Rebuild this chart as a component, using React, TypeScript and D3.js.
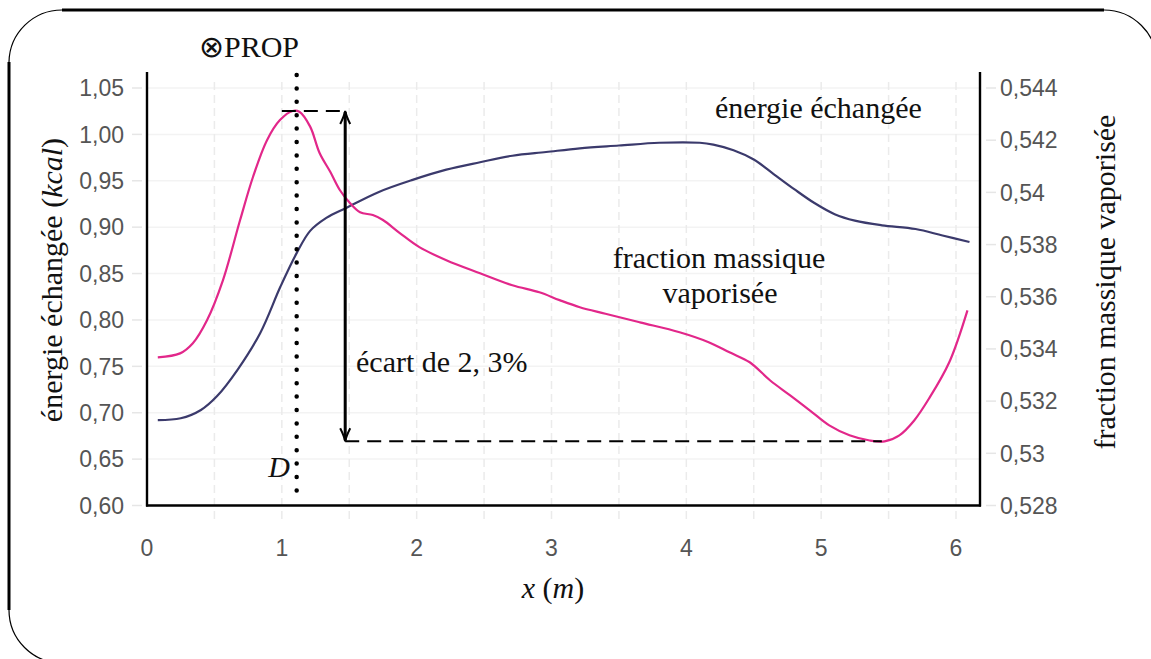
import { useEffect, useRef } from 'react'
import * as d3 from 'd3'

// énergie échangée (left axis, kcal)
const energyX = [0.08, 0.25, 0.4, 0.52, 0.67, 0.84, 0.99, 1.11, 1.21, 1.33, 1.48, 1.72, 1.97, 2.22, 2.47, 2.71, 2.96, 3.21, 3.5, 3.8, 4.1, 4.2, 4.35, 4.5, 4.65, 4.8, 4.95, 5.1, 5.25, 5.45, 5.7, 5.9, 6.1]
const energyVal = [0.692, 0.694, 0.703, 0.718, 0.746, 0.786, 0.836, 0.872, 0.896, 0.91, 0.921, 0.938, 0.951, 0.962, 0.97, 0.977, 0.981, 0.985, 0.988, 0.991, 0.991, 0.989, 0.983, 0.973, 0.957, 0.941, 0.926, 0.914, 0.907, 0.902, 0.898, 0.891, 0.884]

// fraction massique vaporisée (right axis)
const fractionX = [0.08, 0.245, 0.34, 0.445, 0.563, 0.69, 0.786, 0.89, 0.986, 1.08, 1.13, 1.21, 1.28, 1.36, 1.43, 1.505, 1.58, 1.675, 1.75, 1.875, 2.02, 2.22, 2.47, 2.71, 2.91, 3.06, 3.21, 3.4, 3.655, 3.95, 4.17, 4.32, 4.47, 4.62, 4.77, 4.915, 5.06, 5.21, 5.36, 5.47, 5.58, 5.69, 5.8, 5.95, 6.085]
const fractionVal = [0.53368, 0.53383, 0.53422, 0.5351, 0.53663, 0.53893, 0.54059, 0.542, 0.54277, 0.54312, 0.54309, 0.54252, 0.54151, 0.54078, 0.54009, 0.53959, 0.53924, 0.53913, 0.53894, 0.53844, 0.5379, 0.5374, 0.5369, 0.53644, 0.53617, 0.53587, 0.5356, 0.53535, 0.53502, 0.53464, 0.53425, 0.53387, 0.53349, 0.5328, 0.53222, 0.53165, 0.53107, 0.53069, 0.53049, 0.53046, 0.53069, 0.53126, 0.5321, 0.53349, 0.53548]

const xTicks = [0, 1, 2, 3, 4, 5, 6]
const xGrid = [0.5, 1, 1.5, 2, 2.5, 3, 3.5, 4, 4.5, 5, 5.5, 6]
const leftTicks = [0.6, 0.65, 0.7, 0.75, 0.8, 0.85, 0.9, 0.95, 1.0, 1.05]
const rightTicks = [0.528, 0.53, 0.532, 0.534, 0.536, 0.538, 0.54, 0.542, 0.544]

// annotation positions (data units)
const propX = 1.11
const arrowX = 1.47
const peakDashFrom = 1.0
const minDashTo = 5.45

const NAVY = '#3b3a6c'
const PINK = '#e2278a'
const SERIF = '"Liberation Serif", "Times New Roman", serif'
const SANS = '"Liberation Sans", Arial, Helvetica, sans-serif'

export default function App() {
  const svgRef = useRef<SVGSVGElement>(null)

  useEffect(() => {
    if (!svgRef.current) return
    const svg = d3.select(svgRef.current)
    svg.selectAll('*').remove()

    const x = d3.scaleLinear().domain([0, 6]).range([147, 956])
    const yL = d3.scaleLinear().domain([0.6, 1.05]).range([505.5, 88])
    const yR = d3.scaleLinear().domain([0.528, 0.544]).range([505.5, 88])
    const left = 147, right = 980, top = 72, bottom = 505.5

    // frame
    const frame = svg.append('g').attr('fill', 'none').attr('stroke', '#000')
    frame.append('line').attr('x1', 62).attr('x2', 1104).attr('y1', 10).attr('y2', 10).attr('stroke-width', 3)
    frame.append('line').attr('x1', 9).attr('x2', 9).attr('y1', 62).attr('y2', 610).attr('stroke-width', 3)
    frame.append('path').attr('d', 'M9,62 A53,53 0 0 1 62,10').attr('stroke-width', 1.2)
    frame.append('path').attr('d', 'M9,610 A53,53 0 0 0 62,663').attr('stroke-width', 1.2)
    frame.append('path').attr('d', 'M1104,10 A53,53 0 0 1 1157,63').attr('stroke-width', 1.2)

    // grid
    const grid = svg.append('g')
    grid.selectAll('line.h').data(leftTicks).join('line')
      .attr('x1', left).attr('x2', right)
      .attr('y1', d => yL(d)).attr('y2', d => yL(d))
      .attr('stroke', '#f3f3f3').attr('stroke-width', 1.5)
    grid.selectAll('line.v').data(xGrid).join('line')
      .attr('x1', d => x(d)).attr('x2', d => x(d))
      .attr('y1', top + 10).attr('y2', bottom + 14)
      .attr('stroke', '#ebebeb').attr('stroke-width', 1.5).attr('stroke-dasharray', '8 5')

    // faint ticks
    svg.append('g').selectAll('line').data(leftTicks).join('line')
      .attr('x1', 132).attr('x2', 142).attr('y1', d => yL(d)).attr('y2', d => yL(d))
      .attr('stroke', '#e6e6e6').attr('stroke-width', 1.5)
    svg.append('g').selectAll('line').data(rightTicks).join('line')
      .attr('x1', 986).attr('x2', 996).attr('y1', d => yR(d)).attr('y2', d => yR(d))
      .attr('stroke', '#e6e6e6').attr('stroke-width', 1.5)

    // tick labels
    const fmtL = (v: number) => d3.format('.2f')(v).replace('.', ',')
    const fmtR = (v: number) => d3.format('.3~f')(v).replace('.', ',')
    const TICK_FS = 23
    svg.append('g').selectAll('text').data(leftTicks).join('text')
      .attr('x', 124).attr('y', d => yL(d)).attr('dy', '0.36em')
      .attr('text-anchor', 'end').attr('font-family', SANS).attr('font-size', TICK_FS).attr('fill', '#555')
      .text(fmtL)
    svg.append('g').selectAll('text').data(rightTicks).join('text')
      .attr('x', 1000).attr('y', d => yR(d)).attr('dy', '0.36em')
      .attr('text-anchor', 'start').attr('font-family', SANS).attr('font-size', TICK_FS).attr('fill', '#555')
      .text(fmtR)
    svg.append('g').selectAll('text').data(xTicks).join('text')
      .attr('x', d => x(d)).attr('y', 556)
      .attr('text-anchor', 'middle').attr('font-family', SANS).attr('font-size', TICK_FS).attr('fill', '#555')
      .text(d => String(d))

    // curves
    const energy = energyX.map((d, i) => [d, energyVal[i]] as [number, number])
    const fraction = fractionX.map((d, i) => [d, fractionVal[i]] as [number, number])
    svg.append('path').datum(energy)
      .attr('fill', 'none').attr('stroke', NAVY).attr('stroke-width', 2.2)
      .attr('d', d3.line<[number, number]>().x(d => x(d[0])).y(d => yL(d[1])).curve(d3.curveCatmullRom.alpha(0.5)))
    svg.append('path').datum(fraction)
      .attr('fill', 'none').attr('stroke', PINK).attr('stroke-width', 2.2)
      .attr('d', d3.line<[number, number]>().x(d => x(d[0])).y(d => yR(d[1])).curve(d3.curveCatmullRom.alpha(0.5)))

    // axes frame
    const ax = svg.append('g').attr('stroke', '#000').attr('stroke-width', 2.4).attr('fill', 'none')
    ax.append('line').attr('x1', left).attr('x2', left).attr('y1', top).attr('y2', bottom + 1)
    ax.append('line').attr('x1', right).attr('x2', right).attr('y1', top).attr('y2', bottom + 1)
    ax.append('line').attr('x1', left - 1).attr('x2', right + 1).attr('y1', bottom).attr('y2', bottom)

    // annotations
    const peak = d3.max(fractionVal)!
    const low = d3.min(fractionVal)!
    const ann = svg.append('g').attr('fill', 'none').attr('stroke', '#000')
    ann.append('line')
      .attr('x1', x(propX)).attr('x2', x(propX)).attr('y1', 75).attr('y2', 494)
      .attr('stroke-width', 4.5).attr('stroke-linecap', 'round').attr('stroke-dasharray', '0 13.4')
    ann.append('line')
      .attr('x1', x(peakDashFrom)).attr('x2', x(arrowX)).attr('y1', yR(peak)).attr('y2', yR(peak))
      .attr('stroke-width', 2).attr('stroke-dasharray', '14 8')
    ann.append('line')
      .attr('x1', x(arrowX)).attr('x2', x(minDashTo)).attr('y1', yR(low)).attr('y2', yR(low))
      .attr('stroke-width', 2).attr('stroke-dasharray', '14 8')
    const ax0 = x(arrowX), yTop = yR(peak), yBot = yR(low)
    ann.append('line').attr('x1', ax0).attr('x2', ax0).attr('y1', yTop + 1).attr('y2', yBot - 1).attr('stroke-width', 3)
    ann.append('path').attr('d', `M${ax0 - 5},${yTop + 13} Q${ax0 - 1},${yTop + 5} ${ax0},${yTop} Q${ax0 + 1},${yTop + 5} ${ax0 + 5},${yTop + 13}`).attr('stroke-width', 2)
    ann.append('path').attr('d', `M${ax0 - 5},${yBot - 13} Q${ax0 - 1},${yBot - 5} ${ax0},${yBot} Q${ax0 + 1},${yBot - 5} ${ax0 + 5},${yBot - 13}`).attr('stroke-width', 2)

    // serif labels
    const txt = svg.append('g').attr('font-family', SERIF).attr('fill', '#111').attr('font-size', 30)
    txt.append('text').attr('x', 199).attr('y', 57).text('⊗PROP')
    txt.append('text').attr('x', 715).attr('y', 118).text('énergie échangée')
    txt.append('text').attr('x', 719).attr('y', 268).attr('text-anchor', 'middle').text('fraction massique')
    txt.append('text').attr('x', 720).attr('y', 303).attr('text-anchor', 'middle').text('vaporisée')
    txt.append('text').attr('x', 356).attr('y', 372).text('écart de 2, 3%')
    txt.append('text').attr('x', 290).attr('y', 477).attr('text-anchor', 'end').attr('font-style', 'italic').text('D')

    const xl = txt.append('text').attr('x', 553).attr('y', 598).attr('text-anchor', 'middle')
    xl.append('tspan').attr('font-style', 'italic').text('x')
    xl.append('tspan').text(' (')
    xl.append('tspan').attr('font-style', 'italic').text('m')
    xl.append('tspan').text(')')

    const yl = txt.append('text').attr('transform', 'translate(62,280) rotate(-90)').attr('text-anchor', 'middle')
    yl.append('tspan').text('énergie échangée (')
    yl.append('tspan').attr('font-style', 'italic').text('kcal')
    yl.append('tspan').text(')')

    txt.append('text').attr('transform', 'translate(1115,282) rotate(-90)').attr('text-anchor', 'middle')
      .text('fraction massique vaporisée')
  }, [])

  return (
    <div style={{ position: 'absolute', left: 0, top: 0 }}>
      <svg ref={svgRef} width={1151} height={659} style={{ display: 'block', background: '#fff' }} />
    </div>
  )
}
